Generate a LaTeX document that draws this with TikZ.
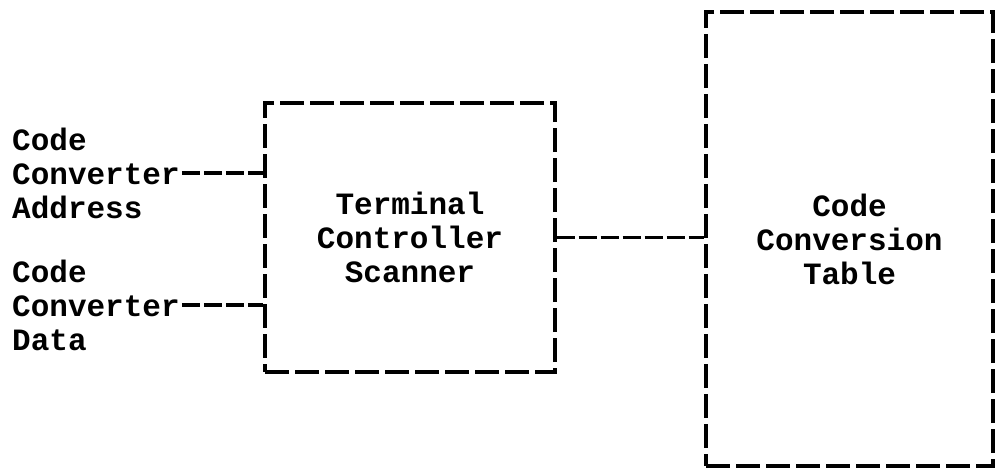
\documentclass[tikz,border=0pt]{standalone}
\usepackage{fontspec}
\setmonofont{Liberation Mono}
\begin{document}
\begin{tikzpicture}[x=1pt,y=-1pt,
  lbl/.style={font=\ttfamily\bfseries\fontsize{31}{34}\selectfont, inner sep=0pt},
  dbox/.style={draw, line width=3.2pt, dash pattern=on 24pt off 6pt, lbl, align=center},
  conn/.style={line width=3.2pt, dash pattern=on 18pt off 4pt}]
\useasboundingbox (0,0) rectangle (995,474);
\node[dbox, minimum width=290pt, minimum height=269pt] (tcs) at (410,237.5) {Terminal\\Controller\\Scanner};
\node[dbox, minimum width=287pt, minimum height=454pt] (cct) at (849.5,239) {Code\\Conversion\\Table};
\node[lbl, anchor=west, align=left] (addr) at (12,173) {Code\\Converter\\Address};
\node[lbl, anchor=west, align=left] (data) at (12,305) {Code\\Converter\\Data};
\draw[conn] (addr.east) ++(2,0) -- (tcs.west |- addr.east);
\draw[conn] (data.east) ++(2,0) -- (tcs.west |- data.east);
\draw[conn] (tcs.east) -- (cct.west |- tcs.east);
\end{tikzpicture}
\end{document}
